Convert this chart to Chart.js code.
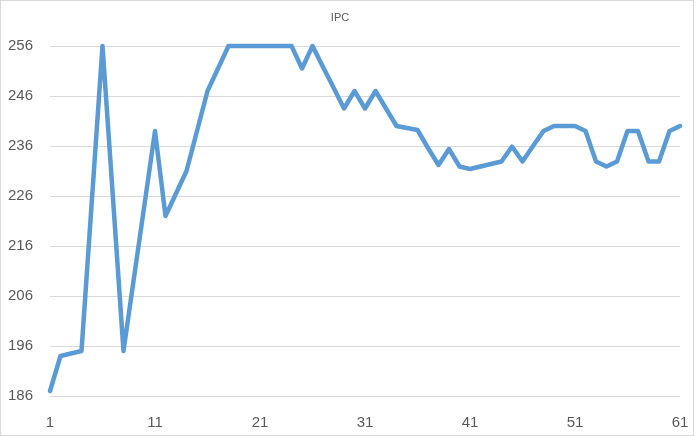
<!DOCTYPE html>
<html>
<head>
<meta charset="utf-8">
<script src="https://cdn.jsdelivr.net/npm/chart.js@4.4.1/dist/chart.umd.min.js"></script>
<style>
  html, body { margin: 0; padding: 0; background: #fff; }
  #wrap { position: relative; width: 700px; height: 436px; }
  #frame { position: absolute; left: 0; top: 0; width: 692px; height: 434px; border: 1px solid #d9d9d9; pointer-events: none; }
</style>
</head>
<body>
<div id="wrap">
  <canvas id="ipcChart" width="700" height="436"></canvas>
  <div id="frame"></div>
</div>
<script>
// IPC series, one value per period (1..61)
const periods = [];
for (let i = 1; i <= 61; i++) periods.push(String(i));

const ipcValues = [
  187, 194, 194.5, 195, 225.5, 256, 225.5, 195, 209.7, 224.3,
  239, 222, 226.5, 231, 239, 247, 251.5, 256, 256, 256,
  256, 256, 256, 256, 251.5, 256, 251.8, 247.7, 243.5, 247,
  243.5, 247, 243.5, 240, 239.6, 239.2, 235.6, 232.2, 235.4, 231.9,
  231.4, 231.9, 232.4, 232.9, 235.9, 232.9, 236, 239, 240, 240,
  240, 239, 232.9, 231.9, 232.9, 239, 239, 232.9, 232.9, 239,
  240
];

const yMin = 186;
const yMax = 256;
const yStep = 10;

const ctx = document.getElementById('ipcChart').getContext('2d');
const ipcChart = new Chart(ctx, {
    type: 'line',
    data: {
        labels: periods,
        datasets: [{
            label: 'IPC',
            data: ipcValues,
            borderColor: '#5b9bd5',
            borderWidth: 4.5,
            borderJoinStyle: 'round',
            borderCapStyle: 'round',
            pointRadius: 0,
            tension: 0,
            fill: false,
            clip: false
        }]
    },
    options: {
        responsive: false,
        animation: false,
        layout: {
            padding: { left: 0, right: 20, top: 0, bottom: 0 }
        },
        plugins: {
            legend: { display: false },
            tooltip: { enabled: false },
            title: {
                display: true,
                text: 'IPC',
                color: '#595959',
                font: { family: 'Liberation Sans', size: 11, weight: 'normal' },
                padding: { top: 11, bottom: 21.8 }
            }
        },
        scales: {
            x: {
                grid: { display: false },
                border: { display: false },
                ticks: {
                    autoSkip: false,
                    maxRotation: 0,
                    padding: 10,
                    color: '#595959',
                    font: { family: 'Liberation Sans', size: 15 },
                    callback: function(value, index) {
                        return index % 10 === 0 ? this.getLabelForValue(value) : '';
                    }
                },
                afterFit: function(scale) { scale.height = 40; }
            },
            y: {
                min: yMin,
                max: yMax,
                grid: { color: '#d9d9d9', lineWidth: 1, drawTicks: false },
                border: { display: false },
                ticks: {
                    stepSize: yStep,
                    padding: 17,
                    color: '#595959',
                    font: { family: 'Liberation Sans', size: 15 }
                },
                afterFit: function(scale) { scale.width = 50; }
            }
        }
    }
});
</script>
</body>
</html>
